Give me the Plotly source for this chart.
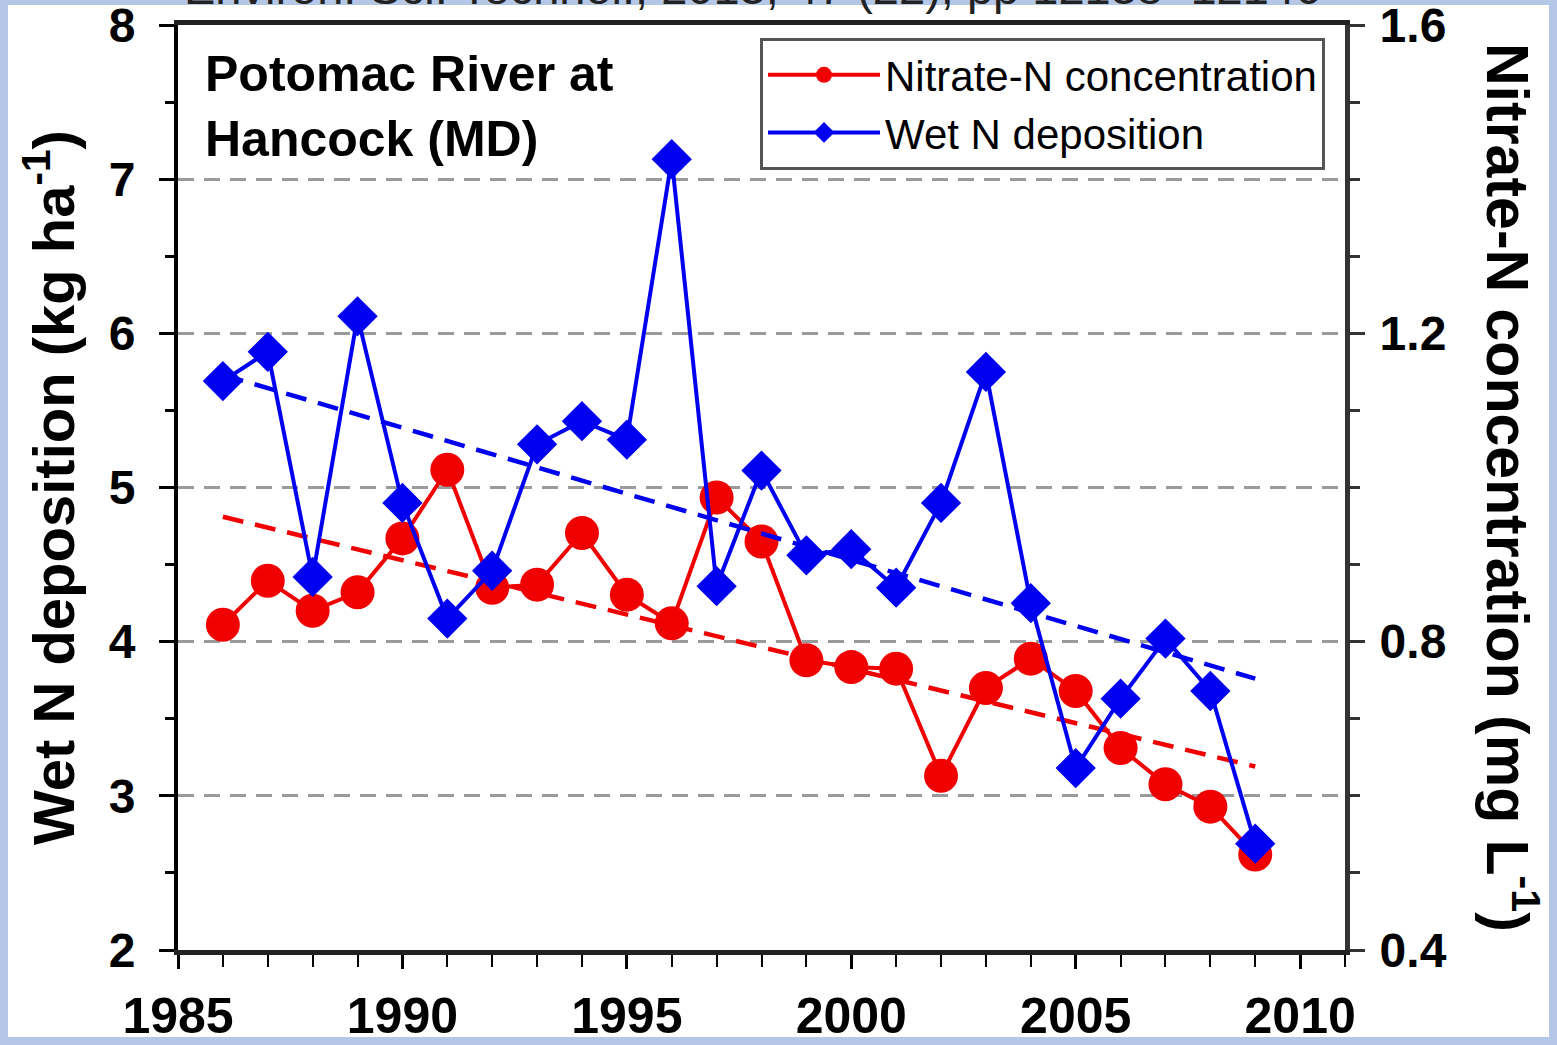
import plotly.graph_objects as go

# ---------------- data ----------------
years = list(range(1986, 2010))
nitrate = [0.822, 0.879, 0.840, 0.864, 0.934, 1.023, 0.870, 0.874, 0.941, 0.861,
           0.824, 0.987, 0.930, 0.776, 0.767, 0.765, 0.626, 0.740, 0.778, 0.736,
           0.662, 0.615, 0.586, 0.524]
deposition = [5.69, 5.88, 4.42, 6.11, 4.90, 4.15, 4.46, 5.28, 5.43, 5.31,
              7.13, 4.36, 5.11, 4.56, 4.60, 4.35, 4.90, 5.75, 4.25, 3.18,
              3.63, 4.02, 3.68, 2.69]
trend_years = [1986, 2009]
nitrate_trend = [0.962, 0.638]
deposition_trend = [5.73, 3.76]

x_ticks = [1985, 1990, 1995, 2000, 2005, 2010]
left_ticks = [2, 3, 4, 5, 6, 7, 8]
right_ticks = [0.4, 0.8, 1.2, 1.6]
right_tick_text = ["0.4", "0.8", "1.2", "1.6"]

# ---------------- style ----------------
RED = "#f00000"
BLUE = "#0000f0"
FONT = "Liberation Sans, Arial, sans-serif"
W, H = 1557, 1045
ML, MR, MT, MB = 178, 212, 25, 95
PW, PH = W - ML - MR, H - MT - MB


def px_x(p):
    return (p - ML) / PW


def px_y(p):
    return 1 - (p - MT) / PH


fig = go.Figure()

# red: nitrate (primary y, right side)
fig.add_trace(go.Scatter(
    x=trend_years, y=nitrate_trend, mode="lines", yaxis="y",
    line=dict(color=RED, width=4.5, dash="21px,12px"), showlegend=False, hoverinfo="skip"))
fig.add_trace(go.Scatter(
    x=years, y=nitrate, mode="lines+markers", yaxis="y",
    name="Nitrate-N concentration",
    line=dict(color=RED, width=4),
    marker=dict(symbol="circle", size=34, color=RED)))

# blue: wet deposition (overlay y2, left side)
fig.add_trace(go.Scatter(
    x=trend_years, y=deposition_trend, mode="lines", yaxis="y2",
    line=dict(color=BLUE, width=4.5, dash="21px,12px"), showlegend=False, hoverinfo="skip"))
fig.add_trace(go.Scatter(
    x=years, y=deposition, mode="lines+markers", yaxis="y2",
    name="Wet N deposition",
    line=dict(color=BLUE, width=4),
    marker=dict(symbol="diamond", size=31, color=BLUE)))

tickfont = dict(family=FONT, size=48, color="black", weight="bold")

fig.update_layout(
    width=W, height=H,
    margin=dict(l=ML, r=MR, t=MT, b=MB, pad=0, autoexpand=False),
    paper_bgcolor="white", plot_bgcolor="white",
    font=dict(family=FONT, color="black"),
    xaxis=dict(
        range=[1985, 2011], tickmode="array", tickvals=x_ticks,
        ticks="outside", ticklen=14, tickwidth=3, tickcolor="black",
        minor=dict(dtick=1, tick0=1985, ticks="outside", ticklen=12, tickwidth=2, tickcolor="black"),
        showline=True, linewidth=5, linecolor="#222", mirror=True,
        showgrid=False, zeroline=False, automargin=False,
        tickfont=dict(family=FONT, size=50, color="black", weight="bold"),
        ticklabelstandoff=4, ticklabeloverflow="allow",
    ),
    xaxis2=dict(
        overlaying="x", anchor="y", side="bottom", range=[1985, 2011],
        tickmode="array", tickvals=x_ticks,
        ticks="inside", ticklen=9, tickwidth=3, tickcolor="black",
        minor=dict(dtick=1, tick0=1985, ticks="inside", ticklen=8, tickwidth=2, tickcolor="black"),
        showticklabels=False, showline=False, showgrid=False, zeroline=False, automargin=False,
    ),
    yaxis=dict(
        range=[0.4, 1.6], side="right", anchor="x",
        tickmode="array", tickvals=right_ticks, ticktext=right_tick_text,
        ticks="outside", ticklen=15, tickwidth=3, tickcolor="#333",
        minor=dict(dtick=0.1, tick0=0.4, ticks="outside", ticklen=10, tickwidth=3, tickcolor="#333"),
        showline=True, linewidth=5, linecolor="#333",
        showgrid=False, zeroline=False, automargin=False,
        tickfont=tickfont, ticklabelstandoff=5, ticklabeloverflow="allow",
    ),
    yaxis2=dict(
        range=[2, 8], side="left", anchor="x", overlaying="y",
        tickmode="array", tickvals=left_ticks,
        ticks="outside", ticklen=15, tickwidth=3, tickcolor="black",
        minor=dict(dtick=0.5, tick0=2, ticks="outside", ticklen=9, tickwidth=3, tickcolor="black"),
        showline=True, linewidth=4, linecolor="black",
        showgrid=True, gridcolor="#9a9a9a", gridwidth=3, griddash="16px,10px",
        zeroline=False, automargin=False,
        tickfont=tickfont, ticklabelstandoff=14, ticklabeloverflow="allow",
        title=dict(text="<b>Wet N deposition (kg ha<sup>-1</sup>)</b>",
                   font=dict(family=FONT, size=58, color="black"), standoff=16),
    ),
    yaxis3=dict(
        range=[2, 8], side="left", anchor="x", overlaying="y",
        tickmode="array", tickvals=left_ticks,
        ticks="inside", ticklen=15, tickwidth=3, tickcolor="black",
        minor=dict(dtick=0.5, tick0=2, ticks="inside", ticklen=10, tickwidth=3, tickcolor="black"),
        showticklabels=False, showline=False, showgrid=False, zeroline=False, automargin=False,
    ),
    yaxis4=dict(
        range=[0.4, 1.6], side="right", anchor="x", overlaying="y",
        tickmode="array", tickvals=right_ticks,
        ticks="inside", ticklen=15, tickwidth=3, tickcolor="#333",
        minor=dict(dtick=0.1, tick0=0.4, ticks="inside", ticklen=9, tickwidth=3, tickcolor="#333"),
        showticklabels=False, showline=False, showgrid=False, zeroline=False, automargin=False,
    ),
    legend=dict(
        x=px_x(760), y=px_y(38), xanchor="left", yanchor="top",
        bgcolor="white", bordercolor="#555", borderwidth=3,
        font=dict(family=FONT, size=42, color="black"),
        itemwidth=112, tracegroupgap=0,
    ),
    showlegend=True,
)

# frame strips (light blue slide background)
FRAME = "#b4c7e7"
fig.add_shape(type="rect", xref="paper", yref="paper", layer="below",
              x0=-0.3, x1=px_x(8), y0=-0.3, y1=1.3, fillcolor=FRAME, line_width=0)
fig.add_shape(type="rect", xref="paper", yref="paper", layer="below",
              x0=px_x(1549), x1=1.4, y0=-0.3, y1=1.3, fillcolor=FRAME, line_width=0)
fig.add_shape(type="rect", xref="paper", yref="paper", layer="below",
              x0=-0.3, x1=1.4, y0=px_y(5), y1=1.3, fillcolor=FRAME, line_width=0)
fig.add_shape(type="rect", xref="paper", yref="paper", layer="below",
              x0=-0.3, x1=1.4, y0=-0.3, y1=px_y(1037), fillcolor=FRAME, line_width=0)

# site label
fig.add_annotation(
    text="<b>Potomac River at<br>Hancock (MD)</b>", xref="paper", yref="paper",
    x=px_x(203), y=px_y(44), xanchor="left", yanchor="top", align="left",
    showarrow=False, font=dict(family=FONT, size=50, color="black"))

# right axis title (reads top to bottom)
fig.add_annotation(
    text="<b>Nitrate-N concentration (mg L<sup>-1</sup>)</b>", xref="paper", yref="paper",
    x=px_x(1512), y=px_y(487), xanchor="center", yanchor="middle", textangle=90,
    showarrow=False, font=dict(family=FONT, size=59, color="black"))

# citation (cut off at the top of the picture)
fig.add_annotation(
    text="Environ. Sci. Technol., 2013, 47 (22), pp 12138\u221212146", xref="paper", yref="paper",
    x=px_x(752), y=px_y(16), xanchor="center", yanchor="bottom",
    showarrow=False, font=dict(family=FONT, size=47, color="#222"))

fig.write_html("out.html")
